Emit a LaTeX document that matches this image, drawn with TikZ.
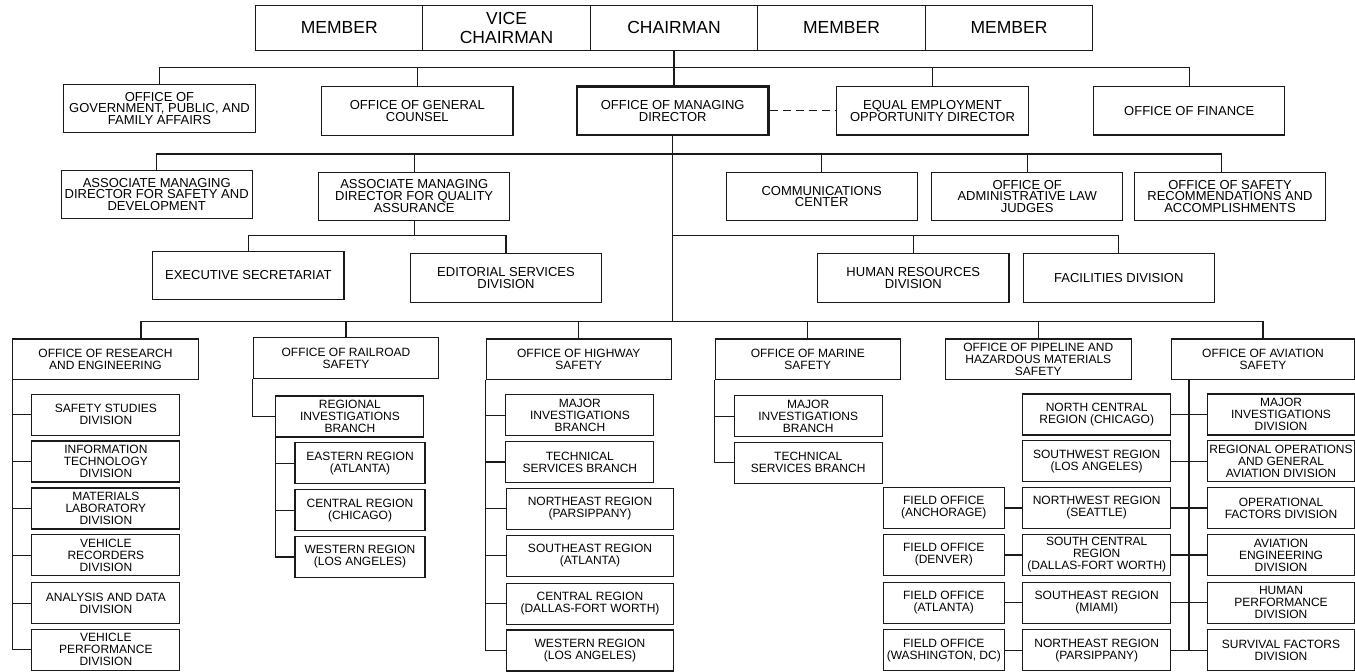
\documentclass[tikz,border=0pt]{standalone}
\usepackage{fontspec}
\setmainfont{Liberation Sans}
\usepackage{tikz}
\usetikzlibrary{positioning,calc}
\definecolor{ink}{HTML}{1A1A1A}
\tikzset{
  unit/.style={rectangle,draw=ink,line width=1.1pt,fill=white,align=center,inner sep=0.5pt,font=\fontsize{12}{12}\selectfont},
  sm/.style={unit,minimum width=148pt,minimum height=41pt},
  wide/.style={unit,minimum width=166.5pt,minimum height=41pt},
  fo/.style={unit,minimum width=121pt,minimum height=41pt},
  rg/.style={unit,minimum width=130pt,minimum height=41pt},
  off/.style={unit,minimum width=185.5pt,minimum height=40.5pt},
  hq/.style={unit,minimum width=191.3pt,minimum height=48.3pt,font=\fontsize{13}{11.5}\selectfont},
  md/.style={hq,line width=2.6pt},
  seat/.style={unit,minimum width=167.5pt,minimum height=44.3pt,font=\fontsize{17.5}{18.3}\selectfont},
  link/.style={draw=ink,line width=1.1pt},
  eeolink/.style={link,dash pattern=on 8pt off 5pt},
}
\begin{document}
\begin{tikzpicture}[x=1pt,y=-1pt]
  \useasboundingbox (0,0) rectangle (1355,672);
  % board
  \node[seat] (mem1) at (339.3,27.9) {MEMBER};
  \node[seat] (vice) at (506.5,27.9) {VICE\\CHAIRMAN};
  \node[seat] (chair) at (674,27.9) {CHAIRMAN};
  \node[seat] (mem2) at (841.5,27.9) {MEMBER};
  \node[seat] (mem3) at (1009,27.9) {MEMBER};
  % offices under the chairman
  \node[hq] (gpf) at (159.5,108.5) {OFFICE OF\\GOVERNMENT, PUBLIC, AND\\FAMILY AFFAIRS};
  \node[hq] (gc) at (417.3,111) {OFFICE OF GENERAL\\COUNSEL};
  \node[md] (omd) at (672.7,110.8) {OFFICE OF MANAGING\\DIRECTOR};
  \node[hq] (eeo) at (932.5,110.8) {EQUAL EMPLOYMENT\\OPPORTUNITY DIRECTOR};
  \node[hq] (fin) at (1189.2,110.8) {OFFICE OF FINANCE};
  % under the managing director
  \node[hq] (amds) at (156.7,194.2) {ASSOCIATE MANAGING\\DIRECTOR FOR SAFETY AND\\DEVELOPMENT};
  \node[hq] (amdqa) at (414.2,196.5) {ASSOCIATE MANAGING\\DIRECTOR FOR QUALITY\\ASSURANCE};
  \node[hq] (comm) at (821.7,196.3) {COMMUNICATIONS\\CENTER};
  \node[hq] (alj) at (1027.2,196.3) {OFFICE OF\\ADMINISTRATIVE LAW\\JUDGES};
  \node[hq] (recs) at (1230,196.2) {OFFICE OF SAFETY\\RECOMMENDATIONS AND\\ACCOMPLISHMENTS};
  \node[hq] (exec) at (248.3,275.5) {EXECUTIVE SECRETARIAT};
  \node[hq] (edit) at (506,278) {EDITORIAL SERVICES\\DIVISION};
  \node[hq] (hr) at (913.3,277.9) {HUMAN RESOURCES\\DIVISION};
  \node[hq] (fac) at (1118.8,277.9) {FACILITIES DIVISION};
  % modal offices
  \node[off] (rae) at (105.5,359.2) {OFFICE OF RESEARCH\\AND ENGINEERING};
  \node[off] (rr) at (346,358) {OFFICE OF RAILROAD\\SAFETY};
  \node[off] (hw) at (578.8,359.2) {OFFICE OF HIGHWAY\\SAFETY};
  \node[off] (mar) at (807.8,359.2) {OFFICE OF MARINE\\SAFETY};
  \node[off] (pipe) at (1038.3,359.2) {OFFICE OF PIPELINE AND\\HAZARDOUS MATERIALS\\SAFETY};
  \node[off,minimum width=183pt] (av) at (1263,359.2) {OFFICE OF AVIATION\\SAFETY};
  % research and engineering
  \node[sm] (ss) at (105.9,414.8) {SAFETY STUDIES\\DIVISION};
  \node[sm] (it) at (105.9,461.5) {INFORMATION\\TECHNOLOGY\\DIVISION};
  \node[sm] (ml) at (105.9,508.5) {MATERIALS\\LABORATORY\\DIVISION};
  \node[sm] (vr) at (105.9,555.2) {VEHICLE\\RECORDERS\\DIVISION};
  \node[sm] (ad) at (105.9,603.2) {ANALYSIS AND DATA\\DIVISION};
  \node[sm] (vp) at (105.9,649.8) {VEHICLE\\PERFORMANCE\\DIVISION};
  % railroad
  \node[sm] (rib) at (349.9,416.5) {REGIONAL\\INVESTIGATIONS\\BRANCH};
  \node[rg] (rre) at (360,463.3) {EASTERN REGION\\(ATLANTA)};
  \node[rg] (rrc) at (360,510.3) {CENTRAL REGION\\(CHICAGO)};
  \node[rg] (rrw) at (360,557) {WESTERN REGION\\(LOS ANGELES)};
  % highway
  \node[sm] (hmi) at (579.9,415.3) {MAJOR\\INVESTIGATIONS\\BRANCH};
  \node[sm] (hts) at (579.9,462) {TECHNICAL\\SERVICES BRANCH};
  \node[wide] (hne) at (590,508.8) {NORTHEAST REGION\\(PARSIPPANY)};
  \node[wide] (hse) at (590,555.6) {SOUTHEAST REGION\\(ATLANTA)};
  \node[wide] (hc) at (590,603.8) {CENTRAL REGION\\(DALLAS-FORT WORTH)};
  \node[wide] (hwr) at (590,650.5) {WESTERN REGION\\(LOS ANGELES)};
  % marine
  \node[sm] (mmi) at (808.2,416.2) {MAJOR\\INVESTIGATIONS\\BRANCH};
  \node[sm] (mts) at (808.2,462.8) {TECHNICAL\\SERVICES BRANCH};
  % aviation regions and field offices
  \node[sm] (rnc) at (1096.7,414.5) {NORTH CENTRAL\\REGION (CHICAGO)};
  \node[sm] (rsw) at (1096.7,461.2) {SOUTHWEST REGION\\(LOS ANGELES)};
  \node[sm] (rnw) at (1096.7,508) {NORTHWEST REGION\\(SEATTLE)};
  \node[sm] (rsc) at (1096.7,555) {SOUTH CENTRAL\\REGION\\(DALLAS-FORT WORTH)};
  \node[sm] (rse) at (1096.7,602.8) {SOUTHEAST REGION\\(MIAMI)};
  \node[sm] (rne) at (1096.7,650.2) {NORTHEAST REGION\\(PARSIPPANY)};
  \node[fo] (fan) at (943.8,508) {FIELD OFFICE\\(ANCHORAGE)};
  \node[fo] (fde) at (943.8,555) {FIELD OFFICE\\(DENVER)};
  \node[fo] (fat) at (943.8,602.8) {FIELD OFFICE\\(ATLANTA)};
  \node[fo] (fdc) at (943.8,650.2) {FIELD OFFICE\\(WASHINGTON, DC)};
  % aviation divisions
  \node[sm,minimum width=147pt] (dmi) at (1281,414.5) {MAJOR\\INVESTIGATIONS\\DIVISION};
  \node[sm,minimum width=147pt] (dro) at (1281,461.2) {REGIONAL OPERATIONS\\AND GENERAL\\AVIATION DIVISION};
  \node[sm,minimum width=147pt] (dof) at (1281,508) {OPERATIONAL\\FACTORS DIVISION};
  \node[sm,minimum width=147pt] (dae) at (1281,555) {AVIATION\\ENGINEERING\\DIVISION};
  \node[sm,minimum width=147pt] (dhp) at (1281,602.8) {HUMAN\\PERFORMANCE\\DIVISION};
  \node[sm,minimum width=147pt] (dsf) at (1281,650.2) {SURVIVAL FACTORS\\DIVISION};
  % bus lines
  \coordinate (b1) at (673,67.7);
  \coordinate (b2e) at (1221.7,154);
  \coordinate (bq) at (0,235.6);
  \coordinate (b3) at (141,321.7);
  \coordinate (avs) at ([xshift=18pt]av.south west);
  \draw[link] (chair.south) -- (chair.south |- omd.north);
  \draw[link] (gpf.north) |- (b1) -| (fin.north);
  \draw[link] (gc.north) -- (gc.north |- b1); \draw[link] (eeo.north) -- (eeo.north |- b1);
  \draw[eeolink] (omd.east) -- (eeo.west);
  \draw[link] (omd.south) -- (omd.south |- b3);
  \draw[link] (amds.north) |- (b2e) -- (b2e |- recs.north);
  \draw[link] (amdqa.north) -- (amdqa.north |- b2e); \draw[link] (comm.north) -- (comm.north |- b2e); \draw[link] (alj.north) -- (alj.north |- b2e);
  \draw[link] (amdqa.south) -- (amdqa.south |- bq);
  \draw[link] (exec.north) |- (amdqa.south |- bq) -| (edit.north);
  \draw[link] (omd.south |- bq) -| (fac.north); \draw[link] (hr.north) -- (hr.north |- bq);
  \draw[link] (b3 |- rae.north) -- (b3) -| (av.north);
  \draw[link] (rr.north) -- (rr.north |- b3); \draw[link] (hw.north) -- (hw.north |- b3);
  \draw[link] (mar.north) -- (mar.north |- b3); \draw[link] (pipe.north) -- (pipe.north |- b3);
  % sub-units
  \draw[link] (rae.south west) |- (vp.west);
  \draw[link] (rae.south west |- ss.west) -- (ss.west); \draw[link] (rae.south west |- it.west) -- (it.west);
  \draw[link] (rae.south west |- ml.west) -- (ml.west); \draw[link] (rae.south west |- vr.west) -- (vr.west);
  \draw[link] (rae.south west |- ad.west) -- (ad.west);
  \draw[link] (rr.south west) |- (rib.west);
  \draw[link] (rib.south west) |- (rrw.west);
  \draw[link] (rib.south west |- rre.west) -- (rre.west); \draw[link] (rib.south west |- rrc.west) -- (rrc.west);
  \draw[link] (hw.south west) |- (hwr.west);
  \draw[link] (hw.south west |- hmi.west) -- (hmi.west); \draw[link] (hw.south west |- hts.west) -- (hts.west);
  \draw[link] (hw.south west |- hne.west) -- (hne.west); \draw[link] (hw.south west |- hse.west) -- (hse.west);
  \draw[link] (hw.south west |- hc.west) -- (hc.west);
  \draw[link] (mar.south west) |- (mts.west);
  \draw[link] (mar.south west |- mmi.west) -- (mmi.west);
  \draw[link] (avs) -- (avs |- dsf.west);
  \draw[link] (rnc.east) -- (dmi.west); \draw[link] (rsw.east) -- (dro.west); \draw[link] (rnw.east) -- (dof.west);
  \draw[link] (rsc.east) -- (dae.west); \draw[link] (rse.east) -- (dhp.west); \draw[link] (rne.east) -- (dsf.west);
  \draw[link] (fan.east) -- (rnw.west); \draw[link] (fde.east) -- (rsc.west);
  \draw[link] (fat.east) -- (rse.west); \draw[link] (fdc.east) -- (rne.west);
\end{tikzpicture}
\end{document}
